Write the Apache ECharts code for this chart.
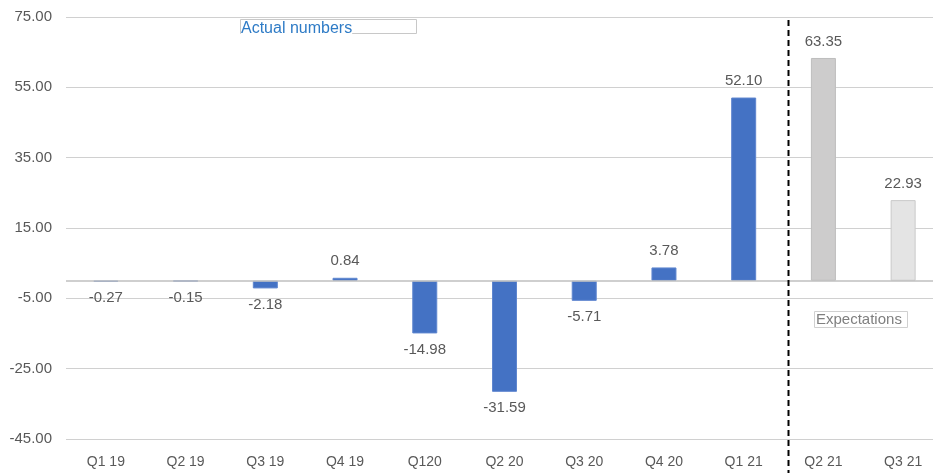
<!DOCTYPE html>
<html>
<head>
<meta charset="utf-8">
<script src="https://cdn.jsdelivr.net/npm/echarts@6/dist/echarts.min.js"></script>
<style>
  html, body { margin: 0; padding: 0; background: #fff; overflow: hidden; }
  #chart { width: 933px; height: 473px; }
</style>
</head>
<body>
<div id="chart"></div>
<script>
// Quarterly values, actuals followed by two forecast quarters
const quarters = ['Q1 19', 'Q2 19', 'Q3 19', 'Q4 19', 'Q120', 'Q2 20', 'Q3 20', 'Q4 20', 'Q1 21', 'Q2 21', 'Q3 21'];
const values = [-0.27, -0.15, -2.18, 0.84, -14.98, -31.59, -5.71, 3.78, 52.10, 63.35, 22.93];
const forecastQuarters = ['Q2 21', 'Q3 21'];
const yTicks = [-45, -25, -5, 15, 35, 55, 75];

// Bar fills
const actualStyle = { color: '#4472C4', borderColor: '#5F86CF', borderWidth: 1 };
const forecastStyles = [
  { color: '#CDCCCC', borderColor: '#BDBDBD', borderWidth: 1 },
  { color: '#E4E4E4', borderColor: '#C9C9C9', borderWidth: 1 }
];

const labelColor = '#595959';
const fontFamily = 'Liberation Sans, Arial, sans-serif';

const barData = values.map((v, i) => {
  const f = forecastQuarters.indexOf(quarters[i]);
  return { value: v, itemStyle: f >= 0 ? forecastStyles[f] : actualStyle };
});

const chart = echarts.init(document.getElementById('chart'), null, { renderer: 'canvas' });

// The plot area runs slightly past the right edge of the canvas
chart.setOption({
  animation: false,
  backgroundColor: '#ffffff',
  grid: {
    left: 66, width: 877, top: 17, bottom: 34,
    containLabel: false, outerBoundsMode: 'none'
  },
  xAxis: {
    type: 'category',
    data: quarters,
    axisLine: { show: false, onZero: false },
    axisTick: { show: false },
    axisLabel: { color: labelColor, fontSize: 14, fontFamily, margin: 16 }
  },
  yAxis: {
    type: 'value',
    min: yTicks[0],
    max: yTicks[yTicks.length - 1],
    interval: yTicks[1] - yTicks[0],
    axisLine: { show: false },
    axisTick: { show: false },
    splitLine: { lineStyle: { color: '#D0D0D0', width: 1 } },
    axisLabel: {
      color: labelColor, fontSize: 15, fontFamily, margin: 14,
      formatter: v => v.toFixed(2)
    }
  },
  series: [{
    type: 'bar',
    data: barData,
    barWidth: 25,
    label: {
      show: true,
      position: 'outside',
      distance: 9,
      color: labelColor,
      fontSize: 15,
      fontFamily,
      formatter: p => p.value.toFixed(2)
    },
    markLine: {
      silent: true,
      symbol: 'none',
      label: { show: false },
      lineStyle: { color: '#BFBFBF', type: 'solid', width: 1.5 },
      data: [{ yAxis: 0 }]
    }
  }]
});

// Divider between actual and expected quarters, plus the two caption boxes
const xa = chart.convertToPixel({ xAxisIndex: 0 }, 'Q1 21');
const xb = chart.convertToPixel({ xAxisIndex: 0 }, 'Q2 21');
const divX = Math.round((xa + xb) / 2 + 4) + 0.5;
const topY = chart.convertToPixel({ yAxisIndex: 0 }, yTicks[yTicks.length - 1]);

chart.setOption({
  graphic: [
    {
      type: 'line', z: 10,
      shape: { x1: divX, y1: topY + 3, x2: divX, y2: 473 },
      style: { stroke: '#000000', lineWidth: 2, lineDash: [6, 4] }
    },
    {
      type: 'rect', z: 10,
      shape: { x: 240.5, y: 19.5, width: 176, height: 14 },
      style: { fill: '#ffffff', stroke: '#C8C8C8', lineWidth: 1 }
    },
    {
      type: 'text', z: 11,
      left: 241, top: 21,
      style: {
        text: 'Actual numbers', fill: '#2E7BC6', font: '16px ' + fontFamily,
        backgroundColor: '#ffffff'
      }
    },
    {
      type: 'rect', z: 10,
      shape: { x: 814.5, y: 311.5, width: 93, height: 16 },
      style: { fill: '#ffffff', stroke: '#D0D0D0', lineWidth: 1 }
    },
    {
      type: 'text', z: 11,
      left: 816, top: 312,
      style: { text: 'Expectations', fill: '#7F7F7F', font: '15px ' + fontFamily }
    }
  ]
});
</script>
</body>
</html>
